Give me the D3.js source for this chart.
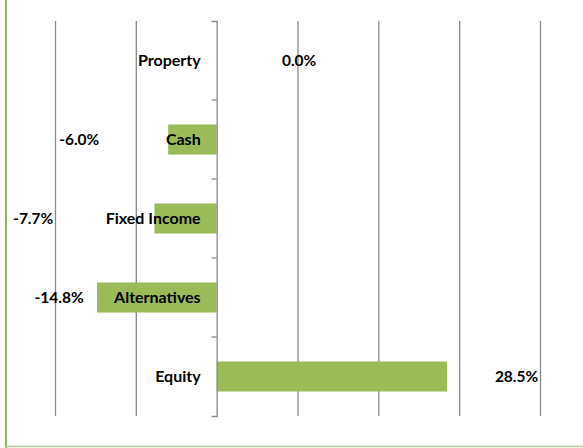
<!DOCTYPE html>
<html>
<head>
<meta charset="utf-8">
<script src="https://cdn.jsdelivr.net/npm/d3@7"></script>
<style>
  html, body { margin: 0; padding: 0; background: #fff; }
  svg { display: block; }
  text { font-family: Lato, "Open Sans", sans-serif; font-weight: bold; fill: #000; }
</style>
</head>
<body>
<svg id="chart" width="583" height="448"></svg>
<script>
// ---- data ----
const categories = ["Property", "Cash", "Fixed Income", "Alternatives", "Equity"];
const values = [0.0, -6.0, -7.7, -14.8, 28.5];
const valueLabels = ["0.0%", "-6.0%", "-7.7%", "-14.8%", "28.5%"];
const gridTicks = [-20, -10, 10, 20, 30, 40];

// ---- layout (not data) ----
const labelCenters = [10.2, -17.0, -22.7, -19.5, 37.1]; // where each value label sits, in axis units

const svg = d3.select("#chart");
const W = 583, H = 448;
const plot = { left: 55, right: 540, top: 21, bottom: 416 };
const FS = 16;

const x = d3.scaleLinear().domain([-20, 40]).range([plot.left, plot.right]);
const y = d3.scaleBand().domain(categories).range([plot.top, plot.bottom])
  .paddingInner(0.62).paddingOuter(0.31);

// chart border
svg.append("line").attr("x1", 6).attr("x2", 6).attr("y1", 0).attr("y2", H)
  .attr("stroke", "#8db55a").attr("stroke-width", 2);
svg.append("line").attr("x1", 5).attr("x2", W).attr("y1", 446.5).attr("y2", 446.5)
  .attr("stroke", "#b7cb9c").attr("stroke-width", 1.5);

// gridlines
const grid = svg.append("g").attr("transform", `translate(0,${plot.bottom})`)
  .call(d3.axisBottom(x).tickValues(gridTicks).tickSize(-(plot.bottom - plot.top)).tickFormat(""));
grid.select(".domain").remove();
grid.selectAll(".tick line").attr("stroke", "#8a8a8a").attr("stroke-width", 1.3);

// bars
svg.append("g").selectAll("rect").data(categories).join("rect")
  .attr("x", (d, i) => x(Math.min(0, values[i])))
  .attr("width", (d, i) => Math.abs(x(values[i]) - x(0)))
  .attr("y", d => y(d))
  .attr("height", y.bandwidth())
  .attr("fill", "#9bbb59");

// category axis at zero
const yAxis = svg.append("g").attr("transform", `translate(${x(0)},0)`)
  .call(d3.axisLeft(y).tickSizeInner(0).tickSizeOuter(5).tickPadding(16));
yAxis.select(".domain").attr("stroke", "#8a8a8a").attr("stroke-width", 1.3);
yAxis.selectAll(".tick text").attr("font-size", FS).attr("font-family", "Lato, 'Open Sans', sans-serif")
  .attr("font-weight", "bold").attr("fill", "#000");

// inner tick marks at band boundaries
const bounds = categories.slice(1).map(c => y(c) - y.step() * y.paddingInner() / 2);
svg.append("g").selectAll("line").data(bounds).join("line")
  .attr("x1", x(0) - 5).attr("x2", x(0))
  .attr("y1", d => d).attr("y2", d => d)
  .attr("stroke", "#8a8a8a").attr("stroke-width", 1.3);

// value labels
svg.append("g").selectAll("text").data(categories).join("text")
  .attr("x", (d, i) => x(labelCenters[i]))
  .attr("y", d => y(d) + y.bandwidth() / 2)
  .attr("dy", "0.35em")
  .attr("text-anchor", "middle")
  .attr("font-size", FS - 0.5)
  .text((d, i) => valueLabels[i]);
</script>
</body>
</html>
